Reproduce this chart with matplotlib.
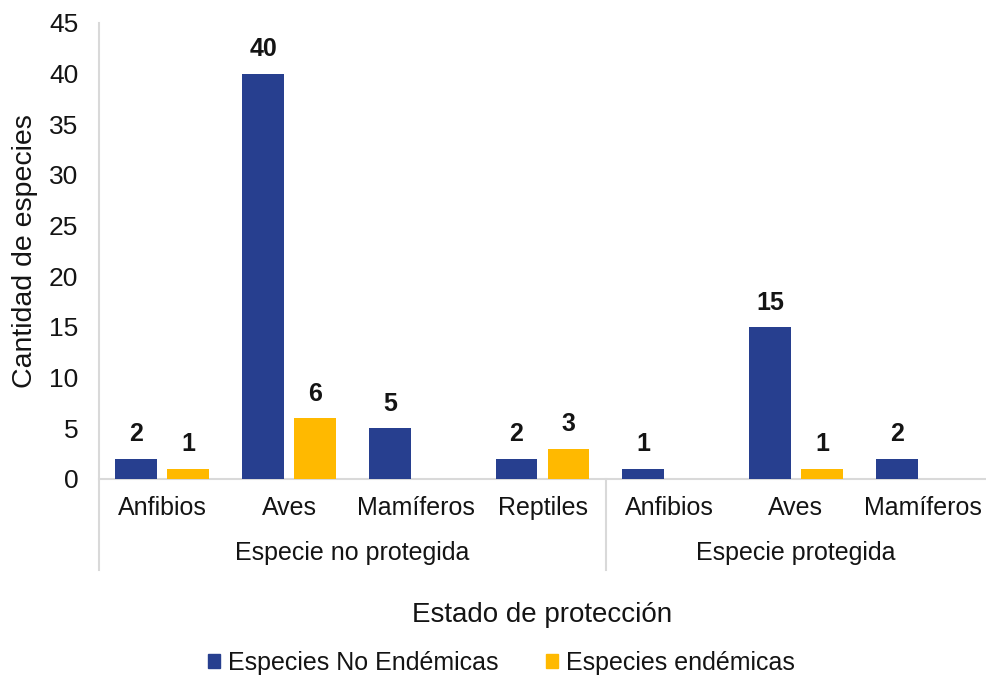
import matplotlib
matplotlib.use("Agg")
import matplotlib.pyplot as plt
from matplotlib.lines import Line2D
import numpy as np

plt.rcParams['font.family'] = ['Liberation Sans', 'DejaVu Sans']

categories = ["Anfibios", "Aves", "Mamíferos", "Reptiles", "Anfibios", "Aves", "Mamíferos"]
groups = ["Especie no protegida", "Especie protegida"]
group_sizes = [4, 3]
no_endemicas = [2, 40, 5, 2, 1, 15, 2]
endemicas = [1, 6, None, 3, None, 1, None]
series_names = ["Especies No Endémicas", "Especies endémicas"]
colors = ["#273F8F", "#FFB900"]
yticks = [0, 5, 10, 15, 20, 25, 30, 35, 40, 45]

W, H = 986, 677
fig = plt.figure(figsize=(W / 100, H / 100), dpi=100)
left, right, bottom_px, top_px = 99, 986, 479, 23
ax = fig.add_axes([left / W, 1 - bottom_px / H, (right - left) / W, (bottom_px - top_px) / H])

x = np.arange(len(categories))
bw = 0.33
off = 0.205
gray = "#D9D9D9"
txt = "#141414"

def vals(v):
    return [np.nan if a is None else a for a in v]

for i, (data, c) in enumerate(zip([no_endemicas, endemicas], colors)):
    xs = x + (-off if i == 0 else off)
    ys = vals(data)
    ax.bar(xs, ys, width=bw, color=c, label=series_names[i], zorder=3)
    for xi, yi in zip(xs, ys):
        if not np.isnan(yi):
            ax.annotate(f"{int(yi)}", (xi, yi), xytext=(0, 9), textcoords="offset points",
                        ha="center", va="bottom", fontsize=18, fontweight="bold", color=txt)

ax.set_xlim(-0.5, len(categories) - 0.5)
ax.set_ylim(0, 45)
ax.set_yticks(yticks)
ax.tick_params(axis="y", length=0, pad=15, labelsize=19, colors=txt)
ax.set_xticks([])
for s in ["top", "right", "left"]:
    ax.spines[s].set_visible(False)
ax.spines["bottom"].set_color(gray)
ax.spines["bottom"].set_linewidth(1.5)

slot = (right - left) / len(categories)
for xi, cat in zip(x, categories):
    fig.text((left + (xi + 0.5) * slot) / W, 1 - 508 / H, cat,
             ha="center", va="center", fontsize=18, color=txt)

start = 0
sep_xs = []
for g, n in zip(groups, group_sizes):
    center = start + (n - 1) / 2
    fig.text((left + (center + 0.5) * slot) / W, 1 - 553 / H, g,
             ha="center", va="center", fontsize=18, color=txt)
    start += n
    sep_xs.append(start - 0.5)

fig.add_artist(Line2D([left / W, left / W], [1 - top_px / H, 1 - 570 / H], color=gray, lw=1.5))
for sx in sep_xs[:-1]:
    px = left + (sx + 0.5) * slot
    fig.add_artist(Line2D([px / W, px / W], [1 - bottom_px / H, 1 - 570 / H], color=gray, lw=1.5))

fig.text(25 / W, 1 - 251 / H, "Cantidad de especies", rotation=90, ha="center", va="center",
         fontsize=20.5, color=txt)
fig.text(((left + right) / 2) / W, 1 - 615 / H, "Estado de protección", ha="center", va="center",
         fontsize=20, color=txt)

handles = [plt.Rectangle((0, 0), 1, 1, color=c) for c in colors]
fig.legend(handles, series_names, loc="center", bbox_to_anchor=(501 / W, 1 - 663 / H), ncol=2,
           frameon=False, fontsize=18, handlelength=0.5, handleheight=0.5, handletextpad=0.3,
           columnspacing=1.9, labelcolor=txt)

fig.savefig("out.png", dpi=100)
